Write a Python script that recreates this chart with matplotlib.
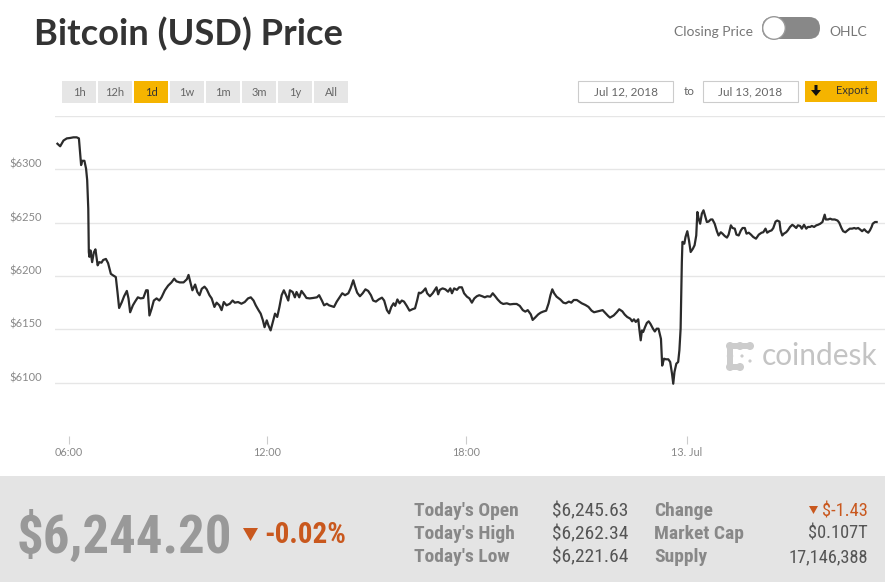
import numpy as np
import matplotlib
matplotlib.use("Agg")
import matplotlib.pyplot as plt
from matplotlib import patches
from matplotlib import font_manager as fm
from matplotlib.transforms import ScaledTranslation

# --- data: Jul 12-13 2018, minutes since 00:00 Jul 12, price in USD ---
minutes = [
    339, 344, 350, 356, 362, 368, 374, 378, 380, 382, 384, 388, 391, 393, 395, 396, 397, 399,
    402, 405, 408, 412, 415, 419, 422, 427, 431, 436, 440, 445, 448, 451, 456, 460, 465, 468,
    471, 476, 480, 485, 490, 495, 500, 503, 506, 510, 514, 519, 524, 528, 534, 540, 546, 551,
    555, 561, 568, 574, 577, 581, 584, 589, 593, 597, 601, 606, 610, 615, 619, 624, 628, 633,
    637, 641, 646, 652, 657, 661, 667, 673, 679, 685, 690, 695, 699, 704, 708, 712, 715, 719,
    722, 726, 730, 734, 738, 742, 746, 750, 754, 758, 761, 766, 770, 773, 778, 782, 787, 791,
    797, 803, 810, 814, 819, 823, 828, 832,
    841, 846, 852, 856, 861, 867, 871, 876, 879, 883, 888, 893, 898, 903, 908, 912, 917, 922,
    928, 932, 937, 941, 945, 949, 952, 956, 960, 964, 968, 973, 978, 983, 988, 992, 995, 998,
    1002, 1007, 1010, 1015, 1020, 1024, 1027, 1030, 1033, 1038, 1043, 1048, 1052, 1055, 1059,
    1064, 1068, 1073, 1077, 1082, 1086, 1090, 1094, 1098, 1102, 1107, 1111, 1115, 1120, 1124,
    1128, 1132, 1137, 1141, 1147, 1152, 1158, 1163, 1168, 1173, 1177, 1181, 1186, 1189, 1193,
    1198, 1202, 1206, 1211, 1215, 1218, 1221, 1224, 1228, 1234, 1239, 1243, 1248, 1252, 1256,
    1261, 1265, 1269, 1275, 1280, 1285, 1289, 1293, 1299, 1303, 1307, 1312, 1315,
    1321, 1326, 1330, 1335, 1339, 1343, 1348, 1351, 1354, 1357, 1361, 1363, 1365, 1367, 1369,
    1372, 1375, 1378, 1381, 1385, 1388, 1391, 1394, 1398, 1400, 1403, 1406, 1410, 1413, 1416,
    1418, 1420, 1423, 1426, 1428, 1430, 1431, 1432, 1433, 1436, 1438, 1441, 1444, 1447, 1451,
    1454, 1457, 1459, 1461, 1464, 1467, 1470, 1473, 1476, 1479, 1483, 1486, 1490, 1494, 1497,
    1501, 1504, 1508, 1512, 1515, 1519, 1522, 1526, 1529, 1533, 1537, 1540, 1544, 1547, 1551,
    1555, 1559, 1564, 1569, 1574, 1577, 1581, 1584, 1588, 1592, 1595, 1599, 1602, 1606, 1608,
    1611, 1614, 1618, 1621, 1625, 1629, 1632, 1636, 1639, 1643, 1646, 1650, 1654, 1657, 1661,
    1664, 1668, 1672, 1675, 1679, 1683, 1687, 1689, 1693, 1697, 1700, 1705, 1710, 1713, 1717,
    1720, 1724, 1728, 1732, 1736, 1740, 1743, 1747, 1750, 1754, 1758, 1761, 1765, 1768, 1771,
    1773, 1777, 1780,
]
price = [
    6324, 6321.6, 6327, 6329, 6329.4, 6330, 6330, 6329, 6316, 6304, 6308, 6308, 6300.6, 6290,
    6263, 6222.5, 6218, 6224, 6213, 6222, 6225, 6210, 6213, 6212.5, 6215, 6216, 6212, 6202,
    6200.6, 6199, 6185, 6170, 6175.6, 6181, 6186, 6179, 6166, 6172.5, 6176, 6180, 6179, 6179.4,
    6186.6, 6186.6, 6163, 6169.4, 6177, 6179, 6177, 6180, 6186.6, 6191, 6194, 6197.5, 6195,
    6194, 6194, 6197, 6201, 6193, 6186.6, 6192, 6185, 6182, 6188, 6190, 6187.5, 6182, 6179,
    6171, 6175, 6172.5, 6168, 6175.6, 6172.5, 6174, 6177, 6175, 6175.6, 6174, 6175.6, 6179,
    6180, 6177, 6172.5, 6168, 6164.7, 6158.4, 6152, 6158.4, 6153.8, 6149, 6157, 6164.7, 6161.6,
    6171, 6182, 6186.6, 6182, 6177, 6186.6, 6185, 6180, 6185, 6180, 6186, 6182.5, 6179.4, 6179,
    6179.4, 6180, 6182, 6177, 6172.5, 6174, 6172.5,
    6171, 6176, 6180.6, 6183.8, 6182, 6183.8, 6188.4, 6196, 6190.6, 6184.4, 6181, 6183.8,
    6187.5, 6186, 6182, 6177, 6176, 6178, 6179.7, 6177, 6168, 6165, 6171, 6174.4, 6172, 6178,
    6174.4, 6177, 6176, 6172, 6167.5, 6168.8, 6169.7, 6177.5, 6184.4, 6183.8, 6185.3, 6188.4,
    6183.8, 6181, 6183.8, 6187, 6189.4, 6182.8, 6187, 6188.4, 6187.5, 6185.3, 6188.4, 6183.8,
    6188.4, 6187, 6189.4, 6189.4, 6183.8, 6180.6, 6179, 6175, 6179, 6181, 6182, 6181, 6180,
    6181, 6180.6, 6183.8, 6181, 6178, 6175, 6173.8, 6174.4, 6173.4, 6173.8, 6173.8, 6172, 6168,
    6166.6, 6168, 6164, 6158.8, 6161, 6164, 6165.6, 6166.6, 6167.5, 6174.4, 6182, 6187.5,
    6183.8, 6180.6, 6178, 6175, 6174.4, 6176, 6175, 6177.5, 6177.5, 6176, 6174.4, 6172.8, 6171,
    6167.5, 6166, 6166.6, 6167.5, 6168, 6165.6, 6162.5, 6161,
    6163, 6166, 6168.8, 6166.9, 6163.8, 6161.6, 6160, 6157.5, 6159.4, 6156.9, 6159.4, 6149,
    6139.7, 6149, 6147.5, 6152, 6156, 6157.5, 6155, 6150.6, 6148, 6150.6, 6150.6, 6141, 6116,
    6122.5, 6121.9, 6121.9, 6119.4, 6108.4, 6099, 6110, 6117.8, 6119.4, 6130.3, 6150.6, 6182,
    6213, 6232, 6230.3, 6236.6, 6242, 6233.4, 6222.5, 6225.6, 6228.8, 6238, 6260, 6254.4, 6249,
    6258.4, 6261.6, 6256, 6250.6, 6251, 6253, 6253, 6249, 6242, 6238, 6241, 6239.7, 6237.5,
    6236, 6238.8, 6247.5, 6245, 6244.4, 6238.8, 6238, 6242.8, 6245, 6245, 6239.7, 6240.6,
    6238.8, 6236.6, 6235, 6238.8, 6240.6, 6241, 6244.4, 6240.6, 6242, 6242.8, 6245, 6251, 6252,
    6251, 6242.8, 6238, 6239.7, 6241, 6242.8, 6246, 6248, 6246.9, 6245, 6247.5, 6246.9, 6244.4,
    6248, 6244.4, 6246, 6246, 6246.9, 6246, 6247.5, 6248, 6249, 6250.6, 6257.5, 6253, 6253,
    6253.75, 6253, 6253, 6252, 6250, 6245, 6242, 6241, 6242.8, 6244.4, 6244.4, 6245, 6244.4,
    6245, 6243.8, 6242, 6243.8, 6242, 6240.6, 6242.8, 6246, 6249, 6250.6, 6250.6,
]

y_ticks = [6100, 6150, 6200, 6250, 6300, 6350]
y_labels = ["$6100", "$6150", "$6200", "$6250", "$6300", ""]
x_ticks = [360, 720, 1080, 1440]
x_labels = ["06:00", "12:00", "18:00", "13. Jul"]

range_buttons = ["1h", "12h", "1d", "1w", "1m", "3m", "1y", "All"]
active_button = "1d"
date_from = "Jul 12, 2018"
date_to = "Jul 13, 2018"

last_price = "$6,244.20"
pct_change = "-0.02%"
stats_left = [("Today's Open", "$6,245.63"), ("Today's High", "$6,262.34"), ("Today's Low", "$6,221.64")]
stats_right = [("Change", "$-1.43"), ("Market Cap", "$0.107T"), ("Supply", "17,146,388")]

# highstock ordinal axis: the 18:00-24:00 block is drawn wider than the others
ord_min = [0, 360, 720, 1080, 1440, 2000]
ord_pos = [-129.3, 69, 267.3, 465.7, 686.7, 999.4]

names = {f.name for f in fm.fontManager.ttflist}


def pick(*cands):
    for c in cands:
        if c in names:
            return c
    return "DejaVu Sans"


UI = pick("Lato", "Open Sans", "DejaVu Sans")
NARROW = pick("Liberation Sans Narrow", "Roboto Condensed", "Liberation Sans")

YELLOW = "#f5b400"
ORANGE = "#c9581e"
GREY_TXT = "#888888"

fig = plt.figure(figsize=(8.85, 5.82), dpi=100)

# overlay in pixel coordinates for the page furniture
ov = fig.add_axes([0, 0, 1, 1], zorder=0)
ov.set_xlim(0, 885)
ov.set_ylim(582, 0)
ov.axis("off")

ov.text(34, 45, "Bitcoin (USD) Price", fontsize=26.1, fontweight="bold", color="#333333",
        family=UI, va="baseline")

# closing price / OHLC toggle
ov.text(753, 32, "Closing Price", fontsize=10, color="#777777", family=UI, ha="right", va="center")
ov.text(829, 32, "OHLC", fontsize=10, color="#777777", family=UI, ha="left", va="center")
ov.add_patch(patches.FancyBboxPatch((762, 17), 58, 22, boxstyle="round,pad=0,rounding_size=11",
                                    fc="#888888", ec="none"))
ov.add_patch(patches.Circle((774, 28), 11.3, fc="white", ec="#999999", lw=1))

# range selector buttons
for i, b in enumerate(range_buttons):
    x0 = 62 + i * 36
    active = b == active_button
    ov.add_patch(patches.Rectangle((x0, 81), 34, 22, fc=YELLOW if active else "#e6e6e6", ec="none"))
    ov.text(x0 + 17, 92, b, fontsize=8, color="#333333" if active else "#666666", family=UI,
            ha="center", va="center")

# date inputs + export
for x0, label in [(578, date_from), (703, date_to)]:
    ov.add_patch(patches.Rectangle((x0, 81), 95, 21, fc="white", ec="#cccccc", lw=0.8))
    ov.text(x0 + 47.5, 91.5, label, fontsize=8.5, color="#666666", family=UI, ha="center", va="center")
ov.text(689, 91.5, "to", fontsize=8.5, color="#666666", family=UI, ha="center", va="center")
ov.add_patch(patches.Rectangle((805, 81), 72, 21, fc=YELLOW, ec="none"))
ov.add_patch(patches.Polygon([(814.5, 85), (817.5, 85), (817.5, 90), (821, 90), (816, 96),
                              (811, 90), (814.5, 90)], fc="#111111", ec="none"))
ov.text(852, 91, "Export", fontsize=8, color="#333333", family=UI, ha="center", va="center")

# coindesk watermark
wm = "#cccccc"
for cx, cy, r in [(730, 346, 4), (740, 346, 4), (750, 346, 4), (730, 356, 3.2), (730, 367, 4),
                  (740, 367, 4), (742, 356, 1.6), (750, 361, 1.6)]:
    ov.add_patch(patches.Circle((cx, cy), r, fc=wm, ec="none"))
ov.add_patch(patches.Rectangle((730, 343), 20, 6, fc=wm, ec="none"))
ov.add_patch(patches.Rectangle((727, 346), 6, 21, fc=wm, ec="none"))
ov.add_patch(patches.Rectangle((730, 364), 10, 6, fc=wm, ec="none"))
ov.text(762, 356, "coindesk", fontsize=21.5, color="#c4c4c4", family=UI, ha="left", va="center")

# bottom ticker panel
ov.add_patch(patches.Rectangle((0, 476), 885, 106, fc="#e4e4e4", ec="none"))
ov.text(17, 553, last_price, fontsize=38, fontweight="bold", color="#999999", family=NARROW,
        va="baseline")
ov.add_patch(patches.Polygon([(243, 528), (258, 528), (250.5, 541)], fc=ORANGE, ec="none"))
ov.text(264, 543, pct_change, fontsize=21, fontweight="bold", color=ORANGE, family=NARROW,
        va="baseline")
for i, (lab, val) in enumerate(stats_left):
    y = 511 + i * 23
    ov.text(414, y, lab, fontsize=14, fontweight="bold", color=GREY_TXT, family=NARROW, va="center")
    ov.text(628, y, val, fontsize=14, color="#555555", family=NARROW, ha="right", va="center")
for i, (lab, val) in enumerate(stats_right):
    y = 511 + i * 23
    ov.text(654, y, lab, fontsize=14, fontweight="bold", color=GREY_TXT, family=NARROW, va="center")
    col = ORANGE if lab == "Change" else "#555555"
    ov.text(868, y, val, fontsize=13.2, color=col, family=NARROW, ha="right", va="center")
ov.add_patch(patches.Polygon([(809, 506), (818, 506), (813.5, 514)], fc=ORANGE, ec="none"))

# price chart
ax = fig.add_axes([55 / 885, 1 - 436 / 582, 830 / 885, 320 / 582], zorder=2)
ax.patch.set_alpha(0)
ax.set_xscale("function", functions=(lambda m: np.interp(m, ord_min, ord_pos),
                                     lambda p: np.interp(p, ord_pos, ord_min)))
ax.plot(minutes, price, color="#2b2b2b", lw=1.6, solid_joinstyle="round")
ax.set_xlim(334.6, 1795)
ax.set_ylim(6050, 6350)
ax.set_yticks(y_ticks)
ax.set_yticklabels(y_labels)
ax.set_xticks(x_ticks)
ax.set_xticklabels(x_labels)
ax.grid(axis="y", color="#e6e6e6", lw=1)
ax.set_axisbelow(True)
for s in ax.spines.values():
    s.set_visible(False)
ax.tick_params(axis="y", length=0, pad=9.5, labelsize=8, labelcolor=GREY_TXT)
ax.tick_params(axis="x", length=5.8, width=0.8, color="#cccccc", pad=1.8, labelsize=7.8,
               labelcolor=GREY_TXT)
for lbl in ax.get_yticklabels():
    lbl.set_family(UI)
    lbl.set_transform(lbl.get_transform() + ScaledTranslation(0, 6 / 100, fig.dpi_scale_trans))
for lbl in ax.get_xticklabels():
    lbl.set_family(UI)

fig.savefig("out.png", dpi=100)
